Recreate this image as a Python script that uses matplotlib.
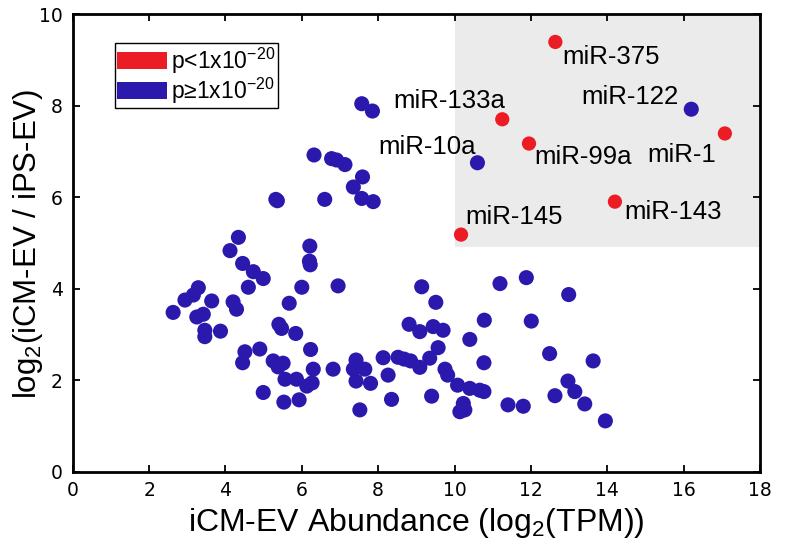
import matplotlib
matplotlib.use("Agg")
import matplotlib.pyplot as plt
from matplotlib.patches import Patch, Rectangle

plt.rcParams['font.family'] = ['Liberation Sans', 'DejaVu Sans']
plt.rcParams['mathtext.fontset'] = 'custom'
plt.rcParams['mathtext.rm'] = 'Liberation Sans'
plt.rcParams['mathtext.it'] = 'Liberation Sans:italic'
plt.rcParams['mathtext.default'] = 'regular'

# ---- data ----
blue_x = [7.57, 7.85, 6.32, 6.78, 6.91, 7.13, 7.59, 7.35, 7.57, 7.87, 5.32, 5.36, 6.60,
          4.34, 4.12, 4.45, 4.73, 4.99, 4.60, 3.29, 3.16, 2.94, 3.64, 4.20, 4.29, 2.63,
          3.42, 3.25, 3.46, 3.46, 3.87, 4.90, 4.51, 4.45, 4.99,
          6.21, 6.20, 6.22, 6.00, 6.95, 5.67, 5.40, 5.47, 5.84, 6.23, 5.25, 5.51, 5.38,
          6.30, 6.82, 5.56, 5.86, 6.13, 6.27, 5.53, 5.93,
          7.42, 7.35, 7.65, 7.42, 7.80, 7.52, 8.13, 8.26, 8.35, 8.52, 8.68, 8.85, 9.09,
          9.35, 9.40, 8.81, 9.09, 9.44, 9.70, 9.14, 9.51, 9.57, 9.75, 9.82, 10.08, 10.40,
          10.66, 10.77, 10.23, 10.14, 10.27, 10.77, 10.40, 10.78, 11.19, 11.88, 12.01,
          12.49, 12.99, 12.97, 13.15, 12.63, 11.40, 11.80, 13.41, 13.63, 13.95,
          16.20, 10.60]
blue_y = [8.04, 7.88, 6.92, 6.84, 6.81, 6.71, 6.44, 6.22, 5.97, 5.90, 5.95, 5.92, 5.95,
          5.12, 4.83, 4.55, 4.37, 4.22, 4.03, 4.02, 3.86, 3.75, 3.73, 3.71, 3.55, 3.48,
          3.44, 3.38, 3.09, 2.95, 3.07, 2.68, 2.62, 2.38, 1.73,
          4.93, 4.60, 4.52, 4.03, 4.06, 3.68, 3.22, 3.13, 3.02, 2.67, 2.42, 2.37, 2.29,
          2.24, 2.24, 2.02, 2.02, 1.87, 1.94, 1.52, 1.57,
          2.44, 2.24, 2.24, 1.98, 1.93, 1.35, 2.49, 2.11, 1.58, 2.50, 2.46, 2.42, 2.28,
          2.48, 1.65, 3.22, 3.06, 3.17, 3.09, 4.04, 3.70, 2.71, 2.24, 2.11, 1.89, 1.82,
          1.78, 1.75, 1.49, 1.31, 1.35, 2.38, 2.89, 3.31, 4.11, 4.24, 3.29,
          2.58, 3.87, 1.98, 1.75, 1.66, 1.46, 1.43, 1.48, 2.42, 1.11,
          7.92, 6.75]

red_x = [12.64, 11.25, 11.95, 17.08, 14.20, 10.17]
red_y = [9.39, 7.70, 7.17, 7.39, 5.90, 5.18]

label_names = ["miR-375", "miR-133a", "miR-99a", "miR-1", "miR-143", "miR-145", "miR-122", "miR-10a"]
label_x = [12.64, 11.25, 11.95, 17.08, 14.20, 10.17, 16.20, 10.60]
label_y = [9.39, 7.70, 7.17, 7.39, 5.90, 5.18, 7.92, 6.75]

highlight_x = (10, 18)
highlight_y = (4.9, 10)

legend_labels = ["p<1x10$^{-20}$", "p\u22651x10$^{-20}$"]
xticks = [0, 2, 4, 6, 8, 10, 12, 14, 16, 18]
yticks = [0, 2, 4, 6, 8, 10]

# ---- style ----
blue = '#2b18ad'
red = '#ec1c24'
label_offsets = [(5, -11), (2, 13.5), (3.5, -9.5), (-6, -15.5), (7, -7.5), (3, 12.5), (-9, 9), (-1, 11.5)]
label_ha = ['left', 'right', 'left', 'right', 'left', 'left', 'right', 'right']

fig = plt.figure(figsize=(7.92, 5.39), dpi=100)
ax = fig.add_axes([0.0918, 0.1249, 0.8678, 0.8491])

ax.add_patch(Rectangle((highlight_x[0], highlight_y[0]), highlight_x[1] - highlight_x[0],
                       highlight_y[1] - highlight_y[0], facecolor='#ebebeb', edgecolor='none', zorder=0))

ax.scatter(blue_x, blue_y, s=118, color=blue, edgecolors='none', zorder=3)
ax.scatter(red_x, red_y, s=105, color=red, edgecolors='none', zorder=3)

for name, x, y, off, ha in zip(label_names, label_x, label_y, label_offsets, label_ha):
    ax.annotate(name, (x, y), xytext=off, textcoords='offset points', ha=ha, va='center',
                fontsize=18.5, color='black', zorder=4)

ax.set_xlim(0, 18)
ax.set_ylim(0, 10)
ax.set_xticks(xticks)
ax.set_yticks(yticks)
ax.tick_params(direction='in', length=5, width=1.3, top=True, right=True, pad=7,
               labelsize=13.5)
for lab in ax.get_xticklabels() + ax.get_yticklabels():
    lab.set_fontfamily('DejaVu Sans')
for sp in ax.spines.values():
    sp.set_linewidth(2.0)

ax.set_xlabel("iCM-EV Abundance (log$_2$(TPM))", fontsize=23, labelpad=4)
ax.set_ylabel("log$_2$(iCM-EV / iPS-EV)", fontsize=22.5)
ax.yaxis.set_label_coords(-0.041, 0.497)

handles = [Patch(facecolor=red, edgecolor='none'), Patch(facecolor=blue, edgecolor='none')]
leg = ax.legend(handles, legend_labels, loc='upper left', bbox_to_anchor=(0.0615, 0.9366),
                borderaxespad=0, fontsize=16.5, handlelength=2.15, handleheight=0.75,
                labelspacing=0.0, borderpad=0.1, handletextpad=0.2, fancybox=False,
                framealpha=1)
leg.get_frame().set_edgecolor('black')
leg.get_frame().set_linewidth(1.0)

fig.savefig("out.png", dpi=100)
